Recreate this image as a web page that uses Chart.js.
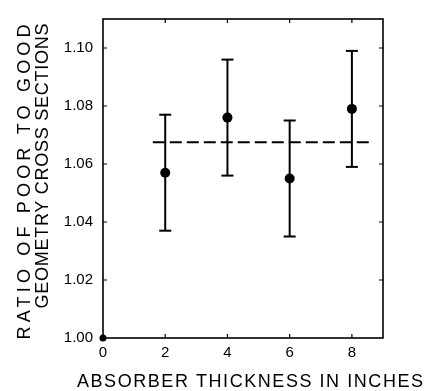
<!DOCTYPE html>
<html>
<head>
<meta charset="utf-8">
<script src="https://cdn.jsdelivr.net/npm/chart.js@4/dist/chart.umd.min.js"></script>
<style>
  html, body { margin: 0; padding: 0; background: #fff; }
  #wrap { width: 425px; height: 391px; }
</style>
</head>
<body>
<div id="wrap"><canvas id="c" width="425" height="391"></canvas></div>
<script>
// ---- data ----
const thickness = [2, 4, 6, 8];                 // absorber thickness (inches)
const ratio     = [1.057, 1.076, 1.055, 1.079]; // poor / good geometry ratio
const errLow    = [1.037, 1.056, 1.035, 1.059];
const errHigh   = [1.077, 1.096, 1.075, 1.099];
const originPt  = [0, 1.00];
const meanValue = 1.0675;
const meanSpan  = [1.6, 8.6];
const xTicks    = [0, 2, 4, 6, 8];
const xTickLabels = ['0', '2', '4', '6', '8'];
const yTicks    = [1.00, 1.02, 1.04, 1.06, 1.08, 1.10];
const yTickLabels = ['1.00', '1.02', '1.04', '1.06', '1.08', '1.10'];
const xTitle = 'ABSORBER THICKNESS IN INCHES';
const yTitle1 = 'RATIO OF POOR TO GOOD';
const yTitle2 = 'GEOMETRY CROSS SECTIONS';

const FONT = '"Liberation Sans", Arial, sans-serif';

const datasets = [];
// dashed mean line
datasets.push({
  type: 'line',
  data: [{x: meanSpan[0], y: meanValue}, {x: meanSpan[1], y: meanValue}],
  borderColor: '#000', borderWidth: 2, borderDash: [12, 5],
  pointRadius: 0, clip: false
});
// error bars
thickness.forEach((t, i) => {
  datasets.push({
    type: 'line',
    data: [{x: t, y: errLow[i]}, {x: t, y: errHigh[i]}],
    borderColor: '#000', borderWidth: 2,
    pointStyle: 'line', pointRadius: 6, pointBorderWidth: 2,
    pointBorderColor: '#000', clip: false
  });
});
// data points
datasets.push({
  type: 'scatter',
  data: thickness.map((t, i) => ({x: t, y: ratio[i]})),
  backgroundColor: '#000', borderColor: '#000',
  pointRadius: 5, pointBorderWidth: 0, clip: false
});
// origin dot
datasets.push({
  type: 'scatter',
  data: [{x: originPt[0], y: originPt[1]}],
  backgroundColor: '#000', borderColor: '#000',
  pointRadius: 3.5, pointBorderWidth: 0, clip: false
});

function fitText(ctx, text, cx, baseline, target) {
  ctx.letterSpacing = '0px';
  const w = ctx.measureText(text).width;
  const ls = (target - w) / (text.length - 1);
  ctx.letterSpacing = ls + 'px';
  ctx.textAlign = 'left';
  ctx.fillText(text, cx - target / 2, baseline);
  ctx.letterSpacing = '0px';
}

const framePlugin = {
  id: 'frame',
  afterDraw(chart) {
    const {ctx, chartArea: a, scales: {x, y}} = chart;
    ctx.save();
    ctx.strokeStyle = '#000';
    ctx.lineWidth = 1.6;
    ctx.strokeRect(a.left, a.top, a.right - a.left, a.bottom - a.top);
    ctx.lineWidth = 1.2;
    const L = 4;
    ctx.beginPath();
    yTicks.forEach(v => {
      if (v === yTicks[0]) return;
      const py = y.getPixelForValue(v);
      ctx.moveTo(a.left, py); ctx.lineTo(a.left + L, py);
      ctx.moveTo(a.right, py); ctx.lineTo(a.right - L, py);
    });
    xTicks.forEach(v => {
      if (v === xTicks[0]) return;
      const px = x.getPixelForValue(v);
      ctx.moveTo(px, a.top); ctx.lineTo(px, a.top + L);
      ctx.moveTo(px, a.bottom); ctx.lineTo(px, a.bottom - L);
    });
    ctx.stroke();

    // titles
    ctx.fillStyle = '#000';
    ctx.font = '18px ' + FONT;
    ctx.textBaseline = 'alphabetic';
    fitText(ctx, xTitle, 250, 386.5, 346);
    ctx.save();
    ctx.translate(29.5, 182);
    ctx.rotate(-Math.PI / 2);
    fitText(ctx, yTitle1, 0, 0, 315);
    ctx.restore();
    ctx.save();
    ctx.translate(48, 166);
    ctx.rotate(-Math.PI / 2);
    fitText(ctx, yTitle2, 0, 0, 285);
    ctx.restore();
    ctx.restore();
  }
};

new Chart(document.getElementById('c'), {
  data: { datasets },
  plugins: [framePlugin],
  options: {
    responsive: false,
    animation: false,
    devicePixelRatio: 1,
    layout: { padding: { top: 7, right: 42, left: 0, bottom: 0 } },
    plugins: { legend: { display: false }, tooltip: { enabled: false } },
    scales: {
      x: {
        type: 'linear', min: 0, max: 9,
        grid: { display: false, drawTicks: false },
        border: { display: false },
        afterBuildTicks: s => { s.ticks = xTicks.map(v => ({value: v})); },
        afterFit: s => { s.height = 53; },
        ticks: {
          color: '#000', padding: 6, maxRotation: 0, autoSkip: false,
          font: { family: FONT, size: 15 },
          callback: (v) => xTickLabels[xTicks.indexOf(v)]
        }
      },
      y: {
        type: 'linear', min: 1.00, max: 1.11,
        grid: { display: false, drawTicks: false },
        border: { display: false },
        afterBuildTicks: s => { s.ticks = yTicks.map(v => ({value: v})); },
        afterFit: s => { s.width = 103; },
        ticks: {
          color: '#000', padding: 10, autoSkip: false,
          font: { family: FONT, size: 15 },
          callback: (v) => {
            const i = yTicks.findIndex(t => Math.abs(t - v) < 1e-9);
            return i >= 0 ? yTickLabels[i] : '';
          }
        }
      }
    }
  }
});
</script>
</body>
</html>
